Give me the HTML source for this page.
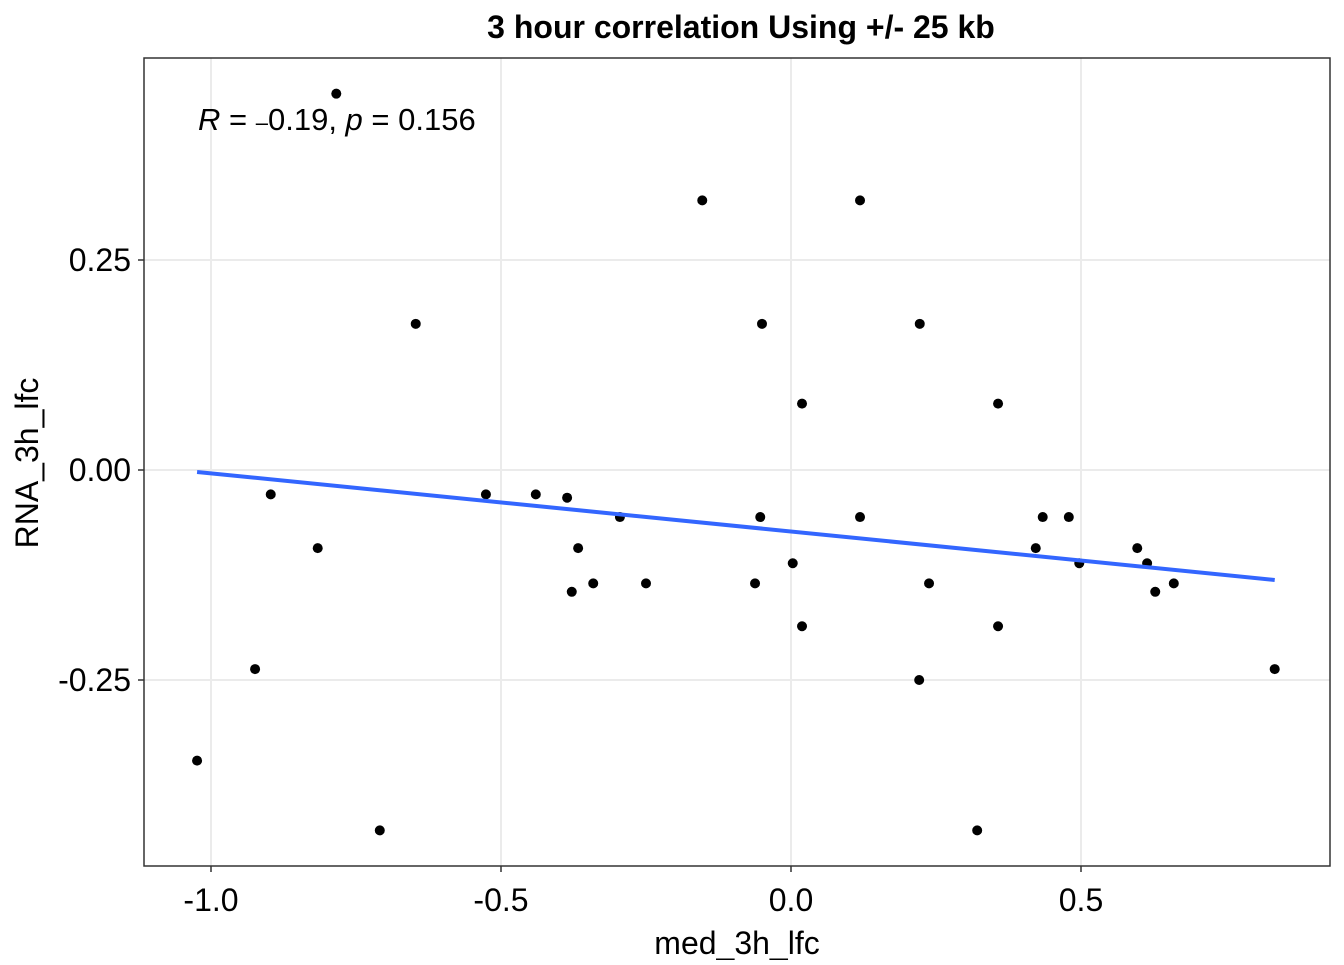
<!DOCTYPE html>
<html><head><meta charset="utf-8"><style>
html,body{margin:0;padding:0;background:#fff;}
svg text{font-family:"Liberation Sans",Arial,sans-serif;}
</style></head><body>
<svg id="chart" width="1344" height="960" viewBox="0 0 1344 960" xmlns="http://www.w3.org/2000/svg">
<text x="741" y="38" text-anchor="middle" font-size="32" font-weight="bold">3 hour correlation Using +/- 25 kb</text>
<g id="grid"></g>
<rect x="144" y="58" width="1186" height="808" fill="none" stroke="#333" stroke-width="1.5"/>
<g id="axes"></g>
<g id="marks"></g>
<text x="198" y="130" font-size="31"><tspan font-style="italic">R</tspan> = <tspan font-size="22">–</tspan>0.19, <tspan font-style="italic">p</tspan> = 0.156</text>
<text x="737" y="954" text-anchor="middle" font-size="32">med_3h_lfc</text>
<text transform="translate(38,463) rotate(-90)" text-anchor="middle" font-size="32">RNA_3h_lfc</text>
</svg>
<script>
const xVals=[-0.784,-0.153,0.119,-0.647,-0.05,0.222,0.019,0.357,-0.897,-0.526,-0.440,-0.386,-0.295,-0.053,0.119,0.434,0.479,-0.816,-0.367,0.422,0.597,0.003,0.497,0.614,-0.378,-0.341,-0.25,-0.062,0.238,0.660,0.628,0.019,0.357,-0.924,0.834,0.221,-1.024,-0.709,0.321];
const yVals=[0.448,0.321,0.321,0.174,0.174,0.174,0.079,0.079,-0.029,-0.029,-0.029,-0.033,-0.056,-0.056,-0.056,-0.056,-0.056,-0.093,-0.093,-0.093,-0.093,-0.111,-0.111,-0.111,-0.145,-0.135,-0.135,-0.135,-0.135,-0.135,-0.145,-0.186,-0.186,-0.237,-0.237,-0.25,-0.346,-0.429,-0.429];
const fitCoef=[-0.0732,-0.0692];
const xTicks=[-1.0,-0.5,0.0,0.5];
const xTickLabels=["-1.0","-0.5","0.0","0.5"];
const yTicks=[-0.25,0.00,0.25];
const yTickLabels=["-0.25","0.00","0.25"];

const sx=v=>791+v*580;
const sy=v=>470-v*840;
const NS="http://www.w3.org/2000/svg";
function mk(t,a,p){const e=document.createElementNS(NS,t);for(const k in a)e.setAttribute(k,a[k]);p.appendChild(e);return e;}
const grid=document.getElementById('grid'),axes=document.getElementById('axes'),marks=document.getElementById('marks');
xTicks.forEach((v,i)=>{const l=mk('line',{x1:sx(v),x2:sx(v),y1:58,y2:866,stroke:'#ebebeb','stroke-width':2},grid);


const t=mk('line',{x1:sx(v),x2:sx(v),y1:866,y2:872,stroke:'#333','stroke-width':1.5},axes);


const tx=mk('text',{x:sx(v),y:911,'text-anchor':'middle','font-size':32,fill:'#000'},axes);tx.textContent=xTickLabels[i];

});
yTicks.forEach((v,i)=>{const l=mk('line',{x1:144,x2:1330,y1:sy(v),y2:sy(v),stroke:'#ebebeb','stroke-width':2},grid);


const t=mk('line',{x1:138,x2:144,y1:sy(v),y2:sy(v),stroke:'#333','stroke-width':1.5},axes);


const tx=mk('text',{x:131,y:sy(v)+11,'text-anchor':'end','font-size':32,fill:'#000'},axes);tx.textContent=yTickLabels[i];

});
xVals.forEach((x,i)=>{const c=mk('circle',{cx:sx(x),cy:sy(yVals[i]),r:5,fill:'#000'},marks);

});
const a=fitCoef[0],b=fitCoef[1],x0=Math.min(...xVals),x1=Math.max(...xVals);
const rl=mk('line',{x1:sx(x0),y1:sy(a+b*x0),x2:sx(x1),y2:sy(a+b*x1),stroke:'#3366FF','stroke-width':4},marks);


</script>
</body></html>
